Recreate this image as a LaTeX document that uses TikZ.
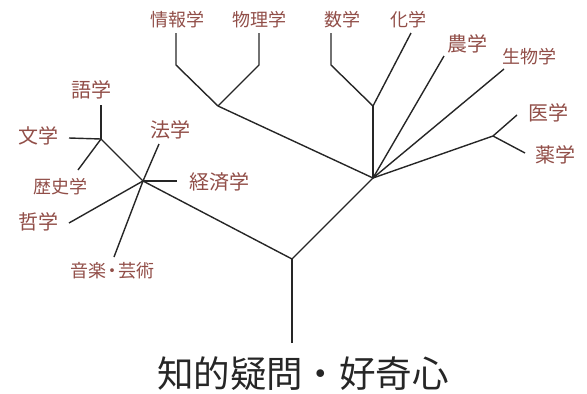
\documentclass[tikz,border=0pt]{standalone}
\usepackage{fontspec}
\newfontfamily\cjk{Noto Sans CJK JP}
\definecolor{lab}{RGB}{145,78,72}
\begin{document}
\begin{tikzpicture}[x=1pt,y=-1pt,
  br/.style={line width=1.4pt,black!85},
  lbl/.style={text=lab,font=\cjk\fontsize{20}{22}\selectfont,inner sep=0pt},
  slbl/.style={text=lab,font=\cjk\fontsize{18}{20}\selectfont,inner sep=0pt},
  big/.style={text=black!85,font=\cjk\fontsize{36.5}{38}\selectfont,inner sep=0pt}]
\useasboundingbox (0,0) rectangle (587,394);
% joints
\coordinate (base) at (292,343);
\coordinate (fork) at (292,259);
\coordinate (lh) at (143,181);
\coordinate (rh) at (373,178);
\coordinate (lsub) at (101,139);
\coordinate (isub) at (218,106);
\coordinate (msub) at (373,106);
\coordinate (msu) at (493,136);
% end points
\coordinate (eHou) at (159,144);
\coordinate (eKei) at (177,181);
\coordinate (eTetsu) at (69,223);
\coordinate (eOng) at (114,257);
\coordinate (eGo) at (101,105);
\coordinate (eBun) at (69,138);
\coordinate (eReki) at (78,170);
\coordinate (kJou) at (176,65);
\coordinate (eJou) at (176,33);
\coordinate (kBut) at (259,65);
\coordinate (eBut) at (259,33);
\coordinate (kSuu) at (331,65);
\coordinate (eSuu) at (331,33);
\coordinate (eKa) at (411,33);
\coordinate (eNou) at (444,56);
\coordinate (eSei) at (504,69);
\coordinate (eI) at (517,115);
\coordinate (eYaku) at (525,153);
% labels
\node[big] (root) at (303,374) {知的疑問・好奇心};
\node[lbl] (hou) at (170,130) {法学};
\node[lbl] (kei) at (219,182) {経済学};
\node[lbl] (tetsu) at (39,222) {哲学};
\node[slbl] (ong) at (112,271) {音楽\kern-3pt・\kern-3pt 芸術};
\node[lbl] (go) at (91,90) {語学};
\node[lbl] (bun) at (38,136) {文学};
\node[slbl] (reki) at (60,187) {歴史学};
\node[slbl] (jou) at (177,20) {情報学};
\node[slbl] (but) at (259,20) {物理学};
\node[slbl] (suu) at (342,20) {数学};
\node[slbl] (ka) at (408,20) {化学};
\node[lbl] (nou) at (467,44) {農学};
\node[slbl] (sei) at (529,57) {生物学};
\node[lbl] (i) at (548,113) {医学};
\node[lbl] (yaku) at (555,155) {薬学};
% branches
\draw[br] (base) -- (fork);
\draw[br] (fork) -- (lh);
\draw[br] (fork) -- (rh);
\draw[br] (lh) -- (eHou);
\draw[br] (lh) -- (eKei);
\draw[br] (lh) -- (eTetsu);
\draw[br] (lh) -- (eOng);
\draw[br] (lh) -- (lsub);
\draw[br] (lsub) -- (eGo);
\draw[br] (lsub) -- (eBun);
\draw[br] (lsub) -- (eReki);
\draw[br] (rh) -- (isub);
\draw[br] (isub) -- (kJou) -- (eJou);
\draw[br] (isub) -- (kBut) -- (eBut);
\draw[br] (rh) -- (msub);
\draw[br] (msub) -- (kSuu) -- (eSuu);
\draw[br] (msub) -- (eKa);
\draw[br] (rh) -- (eNou);
\draw[br] (rh) -- (eSei);
\draw[br] (rh) -- (msu);
\draw[br] (msu) -- (eI);
\draw[br] (msu) -- (eYaku);
\end{tikzpicture}
\end{document}
